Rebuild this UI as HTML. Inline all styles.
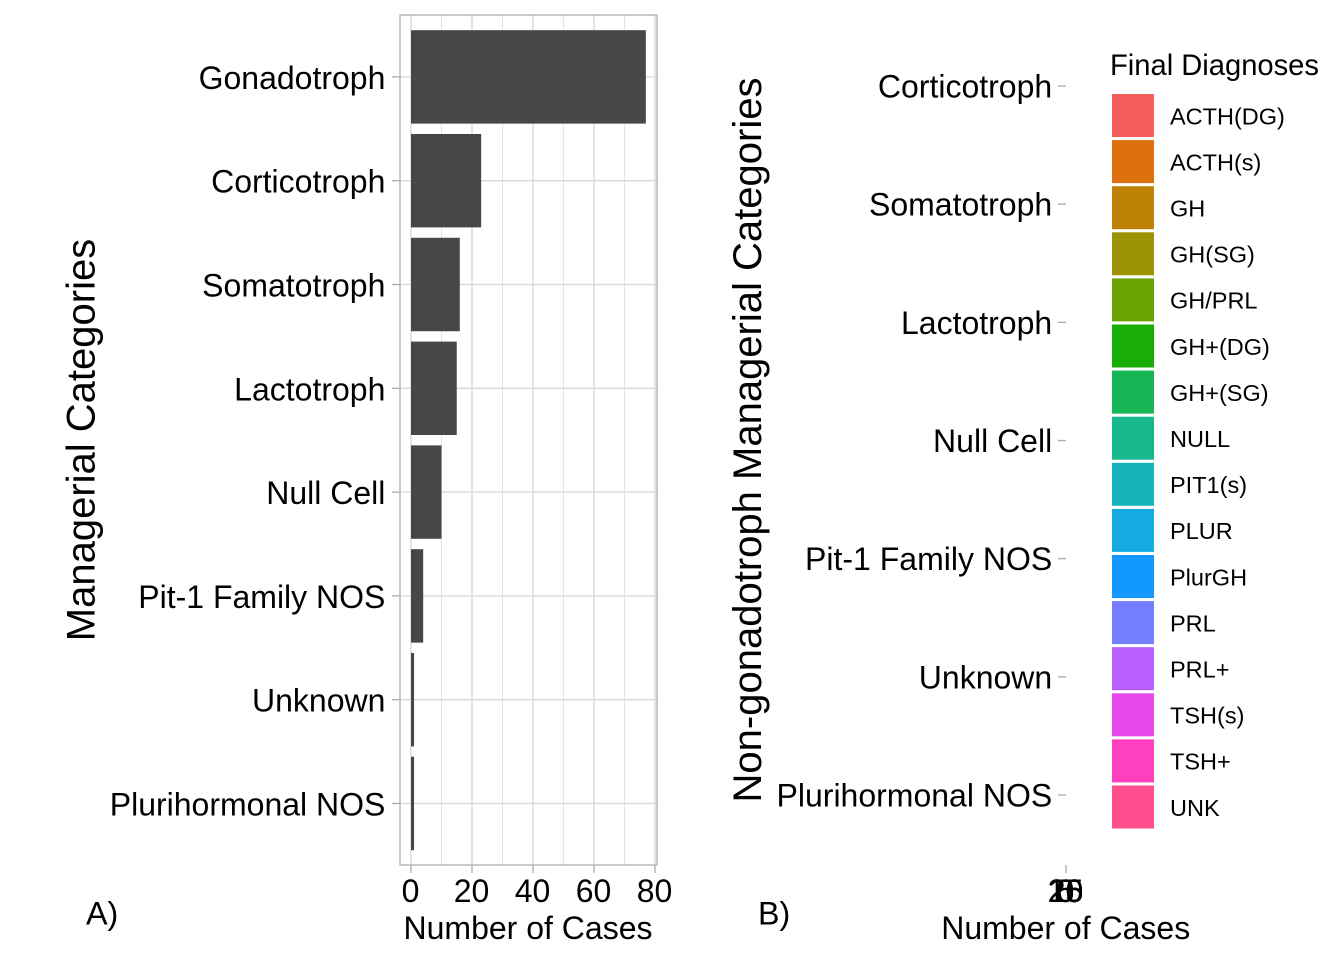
<!DOCTYPE html>
<html>
<head>
<meta charset="utf-8">
<style>
html,body{margin:0;padding:0;background:#fff;width:1344px;height:960px;overflow:hidden}
svg{display:block}
text{font-family:"Liberation Sans",Arial,sans-serif;fill:#000}
</style>
</head>
<body>
<svg id="chart" xmlns="http://www.w3.org/2000/svg" width="1344" height="960" viewBox="0 0 1344 960">
  <g id="panelA"></g>
  <g id="panelB"></g>
  <g id="legend"></g>
  <text x="86" y="924.5" font-size="32.3">A)</text>
  <text x="758" y="924.5" font-size="32.3">B)</text>
  <text x="528" y="939" font-size="32" text-anchor="middle">Number of Cases</text>
  <text x="1065.7" y="939" font-size="32" text-anchor="middle">Number of Cases</text>
  <text transform="translate(94.5,440) rotate(-90)" font-size="40" text-anchor="middle">Managerial Categories</text>
  <text transform="translate(761,440) rotate(-90)" font-size="40" text-anchor="middle">Non-gonadotroph Managerial Categories</text>
  <text x="1110" y="75" font-size="29.15">Final Diagnoses</text>
</svg>
<script>
const categoriesA = ["Gonadotroph","Corticotroph","Somatotroph","Lactotroph","Null Cell","Pit-1 Family NOS","Unknown","Plurihormonal NOS"];
const casesA = [77,23,16,15,10,4,1,1];
const xTicksA = [0,20,40,60,80];
const xMinorA = [10,30,50,70];
const categoriesB = ["Corticotroph","Somatotroph","Lactotroph","Null Cell","Pit-1 Family NOS","Unknown","Plurihormonal NOS"];
const xTicksB = [0,5,10,15,20,25];
const legendLabels = ["ACTH(DG)","ACTH(s)","GH","GH(SG)","GH/PRL","GH+(DG)","GH+(SG)","NULL","PIT1(s)","PLUR","PlurGH","PRL","PRL+","TSH(s)","TSH+","UNK"];
const legendColors = ["#F55F5B","#DF7010","#BE8304","#9C9405","#6CA305","#19AE06","#17B655","#17B88B","#18B4BA","#15ABE2","#1298FF","#747EFF","#B85FFF","#E648EC","#FF40BE","#FF4F8F"];

const NS = "http://www.w3.org/2000/svg";
function mk(parent, tag, attrs, txt){
  const e = document.createElementNS(NS, tag);
  for(const k in attrs) e.setAttribute(k, attrs[k]);
  if(txt !== undefined) e.textContent = txt;
  parent.appendChild(e);
  return e;
}
const GRID = "#d6d6d6", TICK = "#ababab", BAR = "#474747";

/* Panel A */
const pa = {l:400, r:657, t:15, b:865};
const xA = v => 411 + v * 3.05;
const stepA = 103.8;
const yA = i => 76.9 + i * stepA;
const gA = document.getElementById("panelA");

xMinorA.forEach(v=>{
  const l = mk(gA,"line",{x1:xA(v),x2:xA(v),y1:pa.t,y2:pa.b,stroke:"#e4e4e4","stroke-width":1});
  
  
});
xTicksA.forEach(v=>{
  const l = mk(gA,"line",{x1:xA(v),x2:xA(v),y1:pa.t,y2:pa.b,stroke:GRID,"stroke-width":1.3});
  
  
  const t = mk(gA,"line",{x1:xA(v),x2:xA(v),y1:pa.b,y2:pa.b+8,stroke:TICK,"stroke-width":1.3});
  
  
  const lb = mk(gA,"text",{x:xA(v)-0.5,y:902,"font-size":32,"text-anchor":"middle"},v);
  
  
});
categoriesA.forEach((c,i)=>{
  const l = mk(gA,"line",{x1:pa.l,x2:pa.r,y1:yA(i),y2:yA(i),stroke:GRID,"stroke-width":1.3});
  
  
  const t = mk(gA,"line",{x1:pa.l-8,x2:pa.l,y1:yA(i),y2:yA(i),stroke:TICK,"stroke-width":1.3});
  
  
  const lb = mk(gA,"text",{x:385.4,y:yA(i)+12,"font-size":32,"text-anchor":"end"},c);
  
  
});
casesA.forEach((v,i)=>{
  const h = stepA * 0.9;
  const r = mk(gA,"rect",{x:xA(0),y:yA(i)-h/2,width:xA(v)-xA(0),height:h,fill:BAR});
  
  
});
const border = mk(gA,"rect",{x:pa.l,y:pa.t,width:pa.r-pa.l,height:pa.b-pa.t,fill:"none",stroke:"#b8b8b8","stroke-width":1.5});



/* Panel B */
const gB = document.getElementById("panelB");
const xB = 1066;
const yB = i => 86 + i * 118.17;
categoriesB.forEach((c,i)=>{
  const t = mk(gB,"line",{x1:xB-8,x2:xB,y1:yB(i),y2:yB(i),stroke:TICK,"stroke-width":1.3});
  
  
  const lb = mk(gB,"text",{x:1052.2,y:yB(i)+11.5,"font-size":32,"text-anchor":"end"},c);
  
  
});
const bt = mk(gB,"line",{x1:xB,x2:xB,y1:865,y2:873,stroke:TICK,"stroke-width":1.3});


xTicksB.forEach(v=>{
  const lb = mk(gB,"text",{x:xB-0.5,y:902,"font-size":32,"text-anchor":"middle"},v);
  
  
});

/* Legend */
const gL = document.getElementById("legend");
legendLabels.forEach((c,i)=>{
  const y = 94 + i * 46.1;
  const r = mk(gL,"rect",{x:1112,y:y,width:42,height:43,fill:legendColors[i]});
  
  
  const lb = mk(gL,"text",{x:1170,y:y+30.3,"font-size":23.5},c);
  
  
});
</script>
</body>
</html>
